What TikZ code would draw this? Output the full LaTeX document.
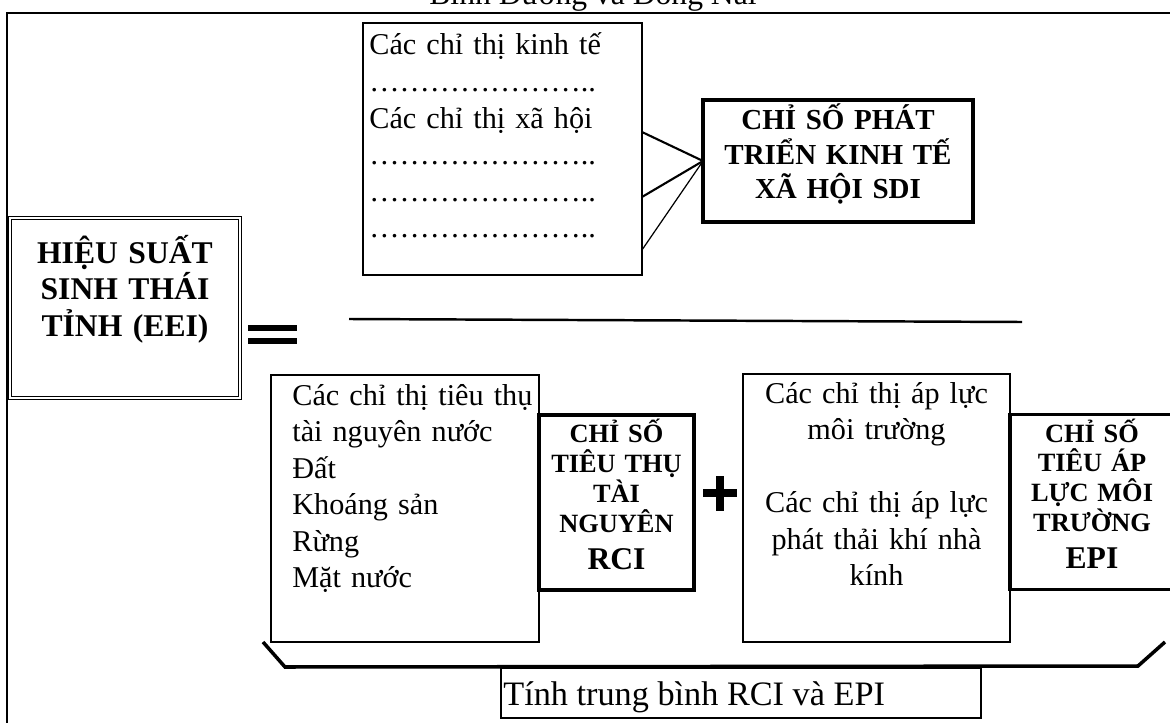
\documentclass[tikz,border=0pt]{standalone}
\usepackage{fontspec}
\setmainfont{Liberation Serif}

\tikzset{
  thinbox/.style={draw, line width=0.85pt, inner sep=0pt, outer sep=0pt, fill=white},
  thickbox/.style={draw, line width=2.2pt, inner sep=0pt, outer sep=0pt, fill=white},
  dblbox/.style={draw, double, line width=0.6pt, double distance=1.4pt, inner sep=0pt, outer sep=0pt},
  listtext/.style={inner sep=0pt, text width=#1, font=\fontsize{17.2}{20.8}\selectfont},
  headtext/.style={inner sep=0pt, text width=#1, align=center, anchor=base}
}

\begin{document}
\begin{tikzpicture}[x=0.02cm, y=-0.02cm]
			\useasboundingbox (0, 0) rectangle (1170, 723);
			\fill[white] (0, 0) rectangle (1170, 723);
			\node[anchor=base, inner sep=0pt, font=\fontsize{18}{20.8}\selectfont] (title) at (593, 5) {Bình Dương và Đồng Nai};
			\draw[line width=1.7pt] (7, 760) -- (7, 13) -- (1200, 13);
			% upper part: indicators and SDI
			\node[thinbox, minimum width=5.58cm, minimum height=5.04cm] (econ) at (502.5, 149) {};
			\node[listtext=5.4cm, align=left, anchor=base west] (econtxt) at (369, 55) {Các chỉ thị kinh tế\\…………………..\\Các chỉ thị xã hội\\…………………..\\…………………..\\…………………..};
			\node[thickbox, minimum width=5.4cm, minimum height=2.44cm] (sdi) at (838, 161) {};
			\node[headtext=5.2cm, font=\bfseries\fontsize{16.5}{19.6}\selectfont] (sditxt) at (838, 130) {CHỈ SỐ PHÁT\\TRIỂN KINH TẾ\\XÃ HỘI SDI};
			\draw[line width=1.2pt] ([yshift=0.34cm]econ.east) -- (sdi.west);
			\draw[line width=1.2pt] ([yshift=-0.96cm]econ.east) -- (sdi.west);
			\draw[line width=0.7pt] ([yshift=-2.02cm]econ.east) -- (sdi.west);
			% left side
			\node[dblbox, minimum width=4.6cm, minimum height=3.6cm] (eei) at (125, 308) {};
			\node[headtext=4.2cm, font=\bfseries\fontsize{18}{21}\selectfont] (eeitxt) at (125, 263) {HIỆU SUẤT\\SINH THÁI\\TỈNH (EEI)};
			\draw[line width=3.7pt] (248, 328) -- (297, 328) (248, 341) -- (297, 341);
			\draw[line width=1.4pt] (349, 319) -- (1022, 322);
			% lower part: RCI + EPI
			\node[thinbox, minimum width=5.36cm, minimum height=5.34cm] (rcilist) at (405, 508.5) {};
			\node[listtext=6cm, align=left, anchor=base west] (rcilisttxt) at (292, 405) {Các chỉ thị tiêu thụ\\tài nguyên nước\\Đất\\Khoáng sản\\Rừng\\Mặt nước};
			\node[thickbox, line width=2pt, minimum width=3.1cm, minimum height=3.5cm] (rci) at (616.5, 502.5) {};
			\node[headtext=3cm, font=\bfseries\fontsize{15}{17}\selectfont] (rcitxt) at (616.5, 442.5) {CHỈ SỐ\\TIÊU THỤ\\TÀI\\NGUYÊN\\[4pt]{\fontsize{18}{21}\selectfont RCI}};
			\draw[line width=4pt] (703, 493) -- (737, 493) (720, 476) -- (720, 511);
			\node[thinbox, minimum width=5.34cm, minimum height=5.36cm] (epilist) at (876.5, 508) {};
			\node[listtext=5.2cm, align=center, anchor=base] (epilisttxt) at (876.5, 403) {Các chỉ thị áp lực\\môi trường\\[20.8pt]Các chỉ thị áp lực\\phát thải khí nhà\\kính};
			\node[thickbox, line width=2pt, minimum width=3.4cm, minimum height=3.5cm] (epi) at (1095, 502) {};
			\node[headtext=3cm, font=\bfseries\fontsize{15}{17}\selectfont] (epitxt) at (1092, 442) {CHỈ SỐ\\TIÊU ÁP\\LỰC MÔI\\TRƯỜNG\\[4pt]{\fontsize{18}{21}\selectfont EPI}};
			\draw[line width=2pt] (263, 642) -- (285, 667) -- (1138, 666) -- (1165, 642);
			\node[thinbox, minimum width=9.6cm, minimum height=1cm] (avg) at (741, 693) {};
			\node[anchor=base west, inner sep=0pt, font=\fontsize{19.5}{22}\selectfont] (avgtxt) at (503, 705) {Tính trung bình RCI và EPI};
		\end{tikzpicture}
\end{document}
